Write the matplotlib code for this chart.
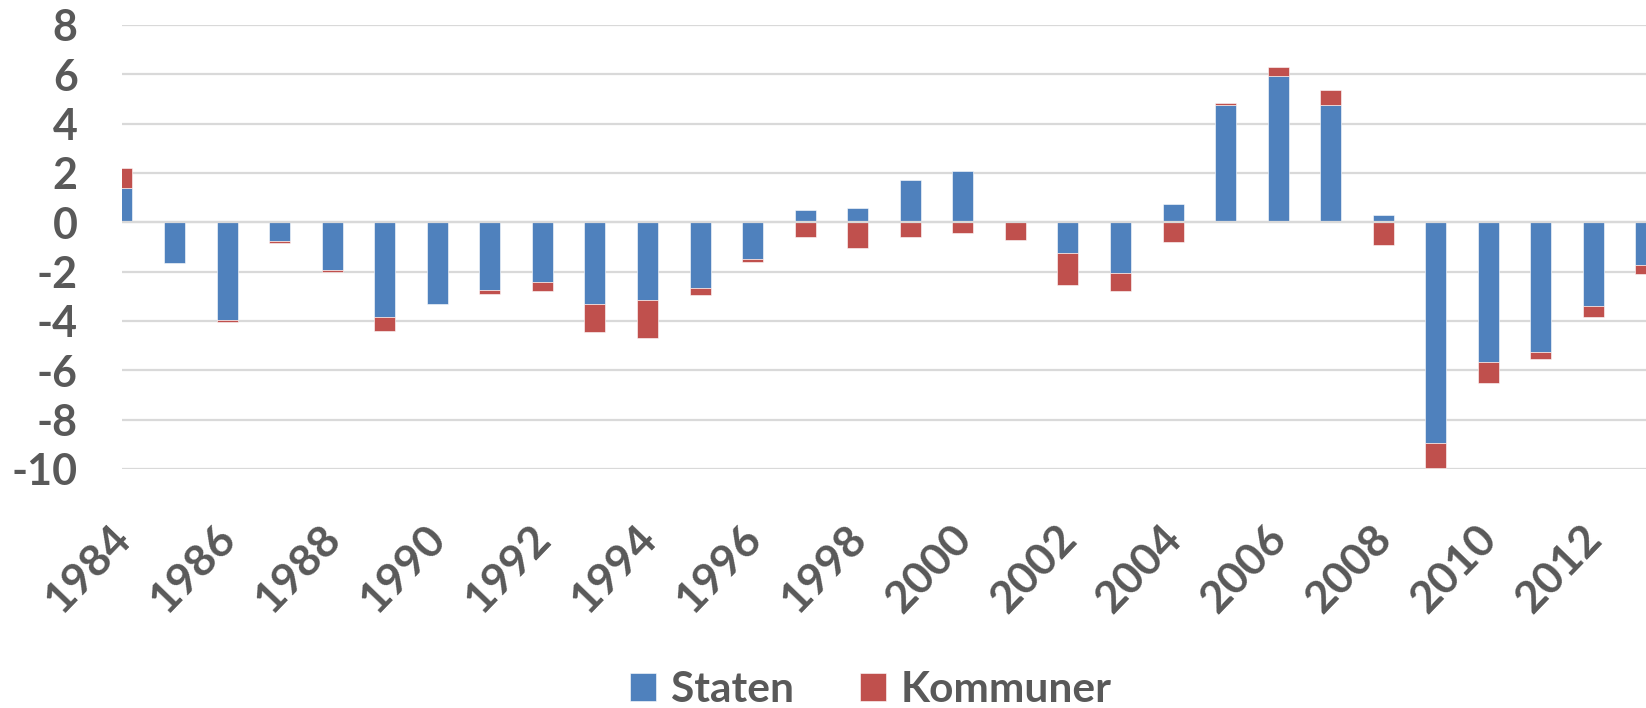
import numpy as np
import matplotlib
matplotlib.use("Agg")
import matplotlib.pyplot as plt
import matplotlib.transforms as mtransforms

plt.rcParams["font.family"] = ["Lato", "DejaVu Sans"]
plt.rcParams["font.weight"] = "bold"

# Data
years = list(range(1984, 2014))
staten = [1.4, -1.65, -3.95, -0.75, -1.95, -3.85, -3.3, -2.75, -2.4, -3.3,
          -3.15, -2.65, -1.5, 0.5, 0.6, 1.7, 2.1, 0.0, -1.25, -2.05,
          0.75, 4.75, 5.95, 4.75, 0.3, -8.95, -5.65, -5.25, -3.4, -1.75]
kommuner = [0.8, 0.0, -0.1, -0.08, -0.07, -0.55, 0.0, -0.15, -0.4, -1.15,
            -1.55, -0.3, -0.1, -0.6, -1.05, -0.6, -0.45, -0.7, -1.3, -0.75,
            -0.8, 0.1, 0.35, 0.6, -0.9, -1.0, -0.85, -0.3, -0.45, -0.35]
series_names = ["Staten", "Kommuner"]
yticks = [8, 6, 4, 2, 0, -2, -4, -6, -8, -10]

BLUE = "#4F81BD"
RED = "#C0504D"
GRID = "#D9D9D9"
TEXT = "#595959"

s = np.array(staten)
k = np.array(kommuner)
x = np.arange(len(years))

# Excel-style stacking: positives and negatives stack separately
k_bottom = np.where(k >= 0, np.maximum(s, 0), np.minimum(s, 0))

fig = plt.figure(figsize=(16.46, 7.08), dpi=100)
ax = fig.add_axes([0.0741, 0.3376, 0.9259, 0.6271])

w = 0.4
ax.bar(x, s, width=w, color=BLUE, edgecolor="white", linewidth=0.4,
       label=series_names[0], zorder=2)
ax.bar(x, k, width=w, bottom=k_bottom, color=RED, edgecolor="white",
       linewidth=0.4, label=series_names[1], zorder=2)

ax.set_xlim(0, len(years) - 1)
ax.set_ylim(-10, 8)
ax.set_yticks(yticks)
ax.set_yticklabels([str(v) for v in yticks])
ax.grid(axis="y", color=GRID, linewidth=1.6, zorder=0)
ax.axhline(0, color=GRID, linewidth=1.6, zorder=3)
ax.set_axisbelow(True)

ax.set_xticks(x[::2])
ax.set_xticklabels([str(y) for y in years[::2]], rotation=46, ha="right",
                   rotation_mode="anchor")

for sp in ax.spines.values():
    sp.set_visible(False)
ax.tick_params(axis="both", length=0, colors=TEXT)
ax.tick_params(axis="y", pad=32, labelsize=31)
ax.tick_params(axis="x", pad=35, labelsize=32)
shift = mtransforms.ScaledTranslation(-13 / 100, 0, fig.dpi_scale_trans)
for lab in ax.get_xticklabels():
    lab.set_transform(lab.get_transform() + shift)
for lab in ax.get_xticklabels() + ax.get_yticklabels():
    lab.set_fontweight("bold")

leg = fig.legend(loc="lower center", bbox_to_anchor=(0.529, -0.055), ncol=2,
                 frameon=False, fontsize=30.5, handlelength=0.62,
                 handleheight=0.62, handletextpad=0.35, columnspacing=1.55)
for t in leg.get_texts():
    t.set_color(TEXT)
    t.set_fontweight("bold")

fig.savefig("out.png", dpi=100)
